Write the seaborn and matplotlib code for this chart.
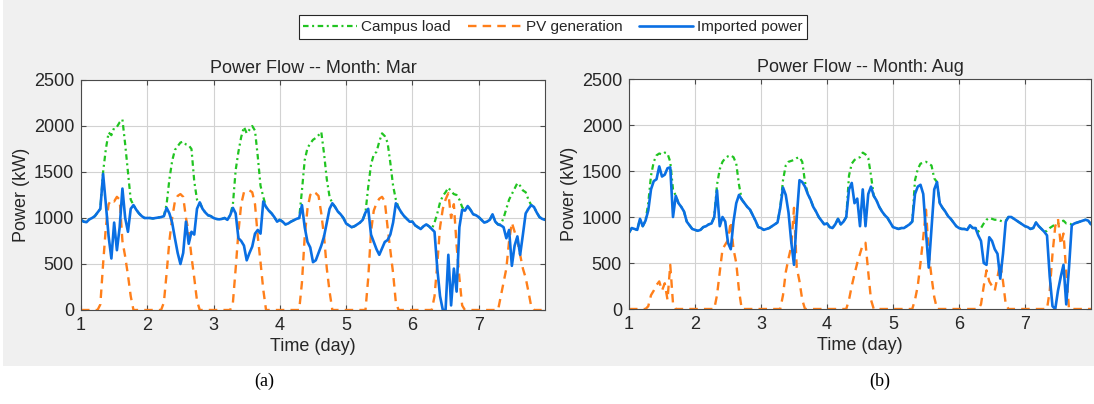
import numpy as np
import matplotlib
matplotlib.use("Agg")
import matplotlib.pyplot as plt
from matplotlib.patches import Rectangle
import seaborn as sns

# Hourly samples over one week (day 1.0 .. 8.0)
hours = np.arange(169)
day = 1 + hours / 24

# ---- March week (kW) ----
mar_load = [
    980, 960, 955, 985, 1000, 1020, 1060, 1100, 1500, 1750, 1930, 1900, 1980, 1990, 2040, 2070, 1800, 1500, 1200, 1140, 1090, 1050, 1020, 1000,
    1000, 1000, 995, 1000, 1005, 1010, 1020, 1150, 1420, 1620, 1740, 1780, 1820, 1830, 1800, 1790, 1750, 1400, 1200, 1170, 1100, 1060, 1030, 1020,
    1000, 990, 985, 990, 1000, 980, 1030, 1150, 1520, 1720, 1880, 1990, 1920, 1960, 2000, 1950, 1670, 1350, 1230, 1120, 1080, 1050, 1010, 960,
    980, 960, 930, 940, 960, 975, 990, 1000, 1300, 1630, 1760, 1810, 1850, 1870, 1900, 1935, 1700, 1420, 1230, 1160, 1120, 1070, 1040, 1000,
    940, 920, 900, 910, 930, 950, 980, 1060, 1340, 1580, 1690, 1720, 1830, 1920, 1890, 1820, 1600, 1350, 1200, 1110, 1060, 1020, 990, 960,
    960, 920, 900, 880, 910, 930, 910, 880, 950, 1050, 1170, 1240, 1280, 1330, 1290, 1260, 1250, 1200, 1120, 1080, 1130, 1090, 1040, 1030,
    1010, 980, 950, 960, 980, 1040, 960, 930, 930, 1000, 1100, 1200, 1260, 1320, 1380, 1350, 1300, 1280, 1200, 1140, 1120, 1060, 1010, 990,
    980,
]
mar_pv = [
    0, 0, 0, 0, 0, 0, 0, 60, 500, 900, 1150, 1200, 1180, 1230, 1200, 750, 580, 380, 150, 0, 0, 0, 0, 0,
    0, 0, 0, 0, 0, 0, 80, 400, 750, 1000, 1180, 1240, 1260, 1230, 1000, 850, 580, 350, 100, 0, 0, 0, 0, 0,
    0, 0, 0, 0, 0, 0, 0, 80, 450, 850, 1150, 1280, 1300, 1300, 1280, 1150, 800, 520, 220, 0, 0, 0, 0, 0,
    0, 0, 0, 0, 0, 0, 0, 0, 300, 800, 1100, 1250, 1290, 1270, 1240, 1050, 800, 450, 200, 0, 0, 0, 0, 0,
    0, 0, 0, 0, 0, 0, 0, 0, 350, 850, 1080, 1160, 1210, 1230, 1180, 900, 650, 400, 80, 0, 0, 0, 0, 0,
    0, 0, 0, 0, 0, 0, 0, 0, 150, 500, 900, 1100, 1200, 1270, 1000, 1150, 700, 350, 50, 0, 0, 0, 0, 0,
    0, 0, 0, 0, 0, 0, 0, 0, 150, 300, 450, 750, 950, 850, 750, 600, 450, 350, 200, 40, 0, 0, 0, 0,
    0,
]
mar_import = [
    980, 960, 955, 985, 1000, 1020, 1060, 1100, 1480, 1150, 800, 560, 950, 650, 900, 1320, 1000, 850, 1100, 1140, 1090, 1050, 1020, 1000,
    1000, 1000, 995, 1000, 1005, 1010, 1020, 1110, 1050, 950, 780, 620, 500, 620, 960, 720, 850, 820, 1100, 1170, 1100, 1060, 1030, 1020,
    1000, 990, 985, 990, 1000, 980, 1030, 1110, 1050, 780, 750, 700, 540, 620, 690, 830, 870, 830, 1180, 1120, 1080, 1050, 1010, 960,
    980, 960, 930, 940, 960, 975, 990, 1000, 1140, 900, 740, 680, 520, 540, 620, 700, 800, 950, 1100, 1160, 1120, 1070, 1040, 1000,
    940, 920, 900, 910, 930, 950, 980, 1060, 1100, 820, 740, 660, 600, 670, 740, 760, 820, 950, 1160, 1110, 1060, 1020, 990, 960,
    960, 920, 900, 880, 910, 930, 910, 880, 850, 450, 150, 0, 0, 600, 50, 450, 200, 900, 1090, 1080, 1130, 1090, 1040, 1030,
    1010, 980, 950, 960, 980, 1040, 960, 930, 920, 900, 780, 870, 480, 700, 800, 600, 820, 1050, 1100, 1140, 1120, 1060, 1010, 990,
    980,
]

# ---- August week (kW) ----
aug_load = [
    830, 880, 870, 860, 980, 900, 960, 1150, 1450, 1600, 1670, 1690, 1680, 1700, 1690, 1600, 1300, 1230, 1150, 1110, 1060, 950, 910, 870,
    860, 850, 860, 890, 900, 920, 930, 1000, 1350, 1520, 1600, 1640, 1660, 1670, 1650, 1580, 1350, 1190, 1150, 1110, 1080, 1020, 960, 890,
    880, 860, 870, 880, 900, 920, 940, 1100, 1400, 1560, 1600, 1610, 1620, 1640, 1650, 1600, 1380, 1250, 1190, 1110, 1060, 1000, 960, 920,
    930, 890, 880, 920, 980, 920, 950, 1000, 1450, 1580, 1620, 1640, 1650, 1700, 1680, 1640, 1450, 1230, 1180, 1110, 1060, 1020, 990, 940,
    890, 880, 870, 880, 880, 900, 920, 950, 1400, 1520, 1580, 1590, 1600, 1580, 1560, 1420, 1380, 1150, 1100, 1060, 1010, 980, 940, 900,
    880, 870, 870, 860, 910, 880, 880, 840, 880, 930, 970, 990, 980, 970, 970, 960, 950, 960, 1000, 1000, 980, 960, 940, 920,
    900, 890, 870, 880, 940, 900, 870, 840, 850, 880, 900, 920, 930, 950, 960, 930, 930, 920, 930, 940, 950, 960, 970, 960,
    920,
]
aug_pv = [
    0, 0, 0, 0, 0, 0, 0, 30, 150, 200, 260, 300, 200, 280, 100, 480, 60, 0, 0, 0, 0, 0, 0, 0,
    0, 0, 0, 0, 0, 0, 0, 0, 150, 400, 650, 700, 750, 950, 650, 500, 200, 0, 0, 0, 0, 0, 0, 0,
    0, 0, 0, 0, 0, 0, 0, 0, 150, 400, 550, 680, 1100, 450, 300, 100, 0, 0, 0, 0, 0, 0, 0, 0,
    0, 0, 0, 0, 0, 0, 0, 0, 100, 250, 380, 500, 600, 700, 720, 400, 100, 0, 0, 0, 0, 0, 0, 0,
    0, 0, 0, 0, 0, 0, 0, 0, 100, 250, 500, 780, 1080, 600, 350, 130, 0, 0, 0, 0, 0, 0, 0, 0,
    0, 0, 0, 0, 0, 0, 0, 0, 50, 250, 420, 300, 250, 200, 350, 500, 300, 50, 0, 0, 0, 0, 0, 0,
    0, 0, 0, 0, 0, 0, 0, 0, 0, 200, 600, 900, 980, 700, 820, 400, 0, 0, 0, 0, 0, 0, 0, 0,
    0,
]
aug_import = [
    830, 880, 870, 860, 980, 900, 960, 1070, 1300, 1390, 1410, 1550, 1440, 1460, 1530, 1540, 1000, 1230, 1150, 1110, 1060, 950, 910, 870,
    860, 850, 860, 890, 900, 920, 930, 1000, 1290, 900, 1000, 950, 720, 650, 950, 1150, 1240, 1190, 1150, 1110, 1080, 1020, 960, 890,
    880, 860, 870, 880, 900, 920, 940, 1100, 1320, 1240, 1050, 730, 480, 1000, 1400, 1380, 1330, 1250, 1190, 1110, 1060, 1000, 960, 920,
    930, 890, 880, 920, 980, 920, 950, 1000, 1300, 1370, 1150, 1200, 900, 1300, 900, 1250, 1330, 1230, 1180, 1110, 1060, 1020, 990, 940,
    890, 880, 870, 880, 880, 900, 920, 950, 1250, 1330, 1350, 1250, 830, 450, 870, 1300, 1380, 1150, 1100, 1060, 1010, 980, 940, 900,
    880, 870, 870, 860, 910, 880, 880, 800, 740, 500, 480, 780, 740, 650, 600, 330, 600, 950, 1000, 1000, 980, 960, 940, 920,
    900, 890, 870, 880, 940, 900, 870, 840, 800, 350, 30, 0, 200, 350, 480, 50, 450, 910, 930, 940, 950, 960, 970, 960,
    920,
]

months = ["Mar", "Aug"]
series_labels = ["Campus load", "PV generation", "Imported power"]
x_ticks = [1, 2, 3, 4, 5, 6, 7]
y_ticks = [0, 500, 1000, 1500, 2000, 2500]

GREEN = "#21c421"
ORANGE = "#ff7f1a"
BLUE = "#0a6fe3"
INK = "#262626"

sns.set_theme(style="whitegrid")
plt.rcParams["font.family"] = ["Liberation Sans", "DejaVu Sans"]

fig = plt.figure(figsize=(10.94, 4.04), dpi=100)
fig.patch.set_facecolor("white")
# light grey canvas behind both panels
fig.add_artist(Rectangle((3 / 1094, 38 / 404), 1 - 3 / 1094, 1 - 38 / 404,
                         transform=fig.transFigure, facecolor="#f0f0f0",
                         edgecolor="none", zorder=-5))

ax_mar = fig.add_axes([81 / 1094, 94 / 404, 464 / 1094, 230 / 404])
ax_aug = fig.add_axes([629 / 1094, 95 / 404, 462 / 1094, 230 / 404])

panels = [
    (ax_mar, months[0], mar_load, mar_pv, mar_import),
    (ax_aug, months[1], aug_load, aug_pv, aug_import),
]

for ax, month, load, pv, imp in panels:
    ax.set_facecolor("white")
    sns.lineplot(x=day, y=load, ax=ax, color=GREEN, lw=1.6,
                 linestyle=(0, (2.5, 1.6, 0.9, 1.6)), label=series_labels[0],
                 errorbar=None, legend=False)
    sns.lineplot(x=day, y=pv, ax=ax, color=ORANGE, lw=1.7,
                 linestyle=(0, (3.6, 2.6)), label=series_labels[1],
                 errorbar=None, legend=False)
    sns.lineplot(x=day, y=imp, ax=ax, color=BLUE, lw=1.9,
                 linestyle="-", label=series_labels[2],
                 errorbar=None, legend=False)

    ax.set_xlim(1, 8)
    ax.set_ylim(0, 2500)
    ax.set_xticks(x_ticks)
    ax.set_yticks(y_ticks)
    ax.set_axisbelow(True)
    ax.grid(True, color="#d2d2d2", lw=0.8)
    for sp in ax.spines.values():
        sp.set_visible(True)
        sp.set_color("#4a4a4a")
        sp.set_linewidth(0.8)
    ax.tick_params(axis="both", direction="in", length=3.5, width=0.8,
                   top=True, right=True, bottom=True, left=True,
                   labelsize=13, labelcolor=INK, color="#4a4a4a", pad=5)
    ax.set_title(f"Power Flow -- Month: {month}", fontsize=13, color=INK, pad=5)
    ax.set_xlabel("Time (day)", fontsize=13, color=INK, labelpad=3)
    ax.set_ylabel("Power (kW)", fontsize=13, color=INK, labelpad=3)

handles, labels = ax_mar.get_legend_handles_labels()
leg = fig.legend(handles, labels, loc="center", ncol=3,
                 bbox_to_anchor=(553 / 1094, 1 - 27 / 404),
                 fontsize=11, frameon=True, fancybox=False,
                 edgecolor=INK, facecolor="white", framealpha=1,
                 handlelength=3.5, handletextpad=0.3, columnspacing=1.1,
                 borderpad=0.3)
leg.get_frame().set_linewidth(0.8)

fig.text(264 / 1094, 1 - 381 / 404, "(a)", ha="center", va="center",
         family=["Liberation Serif", "DejaVu Serif"], fontsize=13, color="black")
fig.text(880 / 1094, 1 - 381 / 404, "(b)", ha="center", va="center",
         family=["Liberation Serif", "DejaVu Serif"], fontsize=13, color="black")

fig.savefig("out.png", dpi=100, facecolor=fig.get_facecolor())
